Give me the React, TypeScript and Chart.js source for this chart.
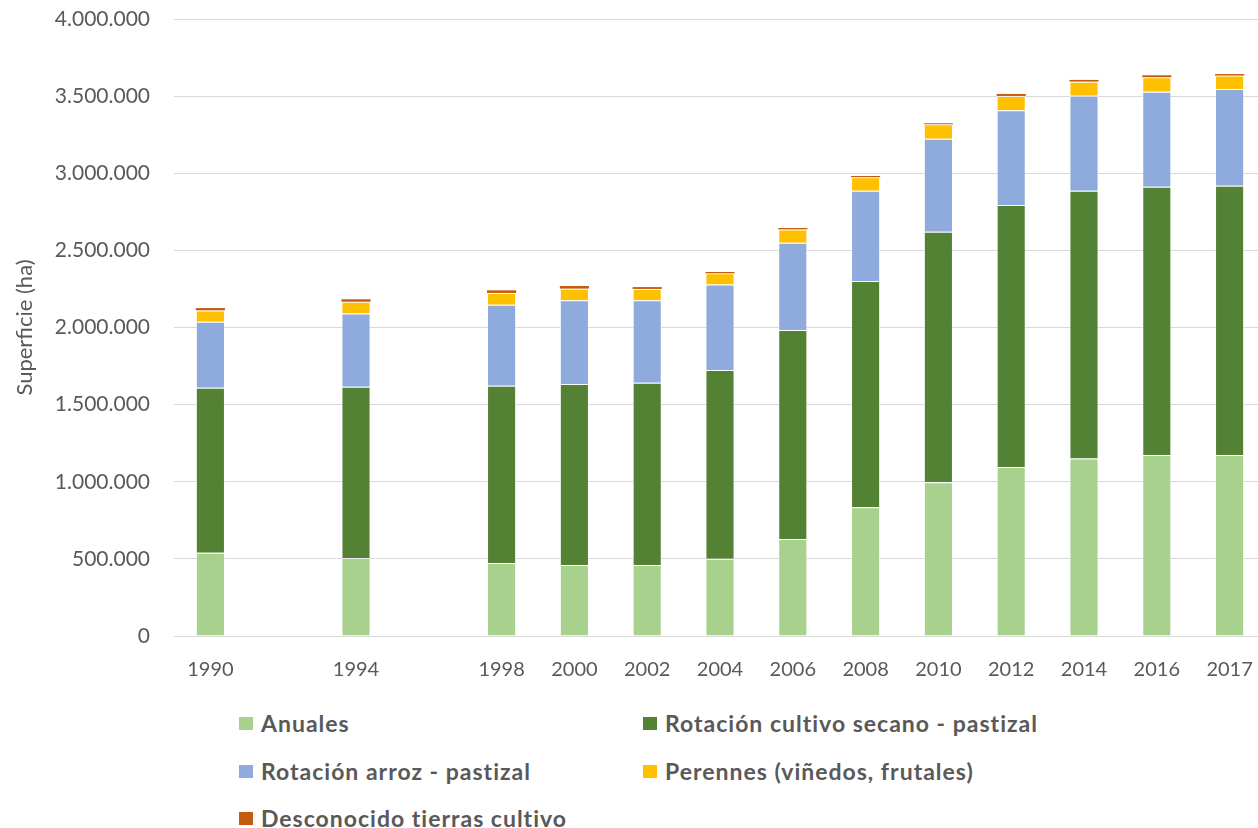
import React, { useEffect, useRef } from "react";
import { Chart, registerables } from "chart.js";

Chart.register(...registerables);

const years = ["1990", "", "1994", "", "1998", "2000", "2002", "2004", "2006", "2008", "2010", "2012", "2014", "2016", "2017"];

const anuales = [540000, null, 506000, null, 473000, 460000, 460000, 501000, 629000, 834000, 996000, 1096000, 1150000, 1173000, 1173000];
const secano = [1070000, null, 1110000, null, 1150000, 1174000, 1182000, 1223000, 1355000, 1467000, 1625000, 1698000, 1737000, 1740000, 1746000];
const arroz = [428000, null, 474000, null, 525000, 542000, 534000, 554000, 566000, 586000, 603000, 614000, 616000, 616000, 627000];
const perennes = [73000, null, 77000, null, 76000, 76000, 74000, 73000, 86000, 87000, 93000, 93000, 91000, 93000, 87000];
const desconocido = [15000, null, 16000, null, 17000, 17000, 12000, 9000, 9000, 8000, 7000, 13000, 11000, 13000, 10000];

const seriesNames = [
  "Anuales",
  "Rotación cultivo secano - pastizal",
  "Rotación arroz - pastizal",
  "Perennes (viñedos, frutales)",
  "Desconocido tierras cultivo",
];
const seriesColors = ["#A9D18E", "#548235", "#8FAADC", "#FFC000", "#C55A11"];
const seriesValues = [anuales, secano, arroz, perennes, desconocido];

const yTitle = "Superficie (ha)";
const yMax = 4000000;
const yStep = 500000;

const TEXT = "#595959";
const FONT = "Lato, 'Open Sans', sans-serif";

function fmt(v: number): string {
  return String(Math.round(v)).replace(/\B(?=(\d{3})+(?!\d))/g, ".");
}

// legend layout (grid of 2 columns)
const legendCols = [239, 643];
const legendRows = [723, 771, 818];

export default function App() {
  const ref = useRef<HTMLCanvasElement | null>(null);

  useEffect(() => {
    if (!ref.current) return;
    const chart = new Chart(ref.current, {
      type: "bar",
      data: {
        labels: years,
        datasets: seriesValues.map((vals, i) => ({
          label: seriesNames[i],
          data: vals,
          backgroundColor: seriesColors[i],
          borderColor: "rgba(255,255,255,0.5)",
          borderWidth: i === 4 ? 0 : 1,
          categoryPercentage: 0.8,
          barPercentage: 0.5,
        })),
      },
      options: {
        responsive: false,
        animation: false,
        maintainAspectRatio: false,
        layout: { padding: { top: 19, left: 0, right: 0, bottom: 0 } },
        plugins: {
          legend: { display: false },
          tooltip: { enabled: false },
        },
        scales: {
          x: {
            stacked: true,
            offset: true,
            grid: { display: false },
            border: { display: false },
            ticks: {
              color: TEXT,
              font: { family: FONT, size: 20 },
              padding: 14,
              maxRotation: 0,
              autoSkip: false,
            },
            afterFit: (scale: any) => {
              scale.height = 54;
              scale.paddingLeft = 0;
              scale.paddingRight = 0;
            },
          },
          y: {
            stacked: true,
            min: 0,
            max: yMax,
            border: { display: false },
            grid: { color: "#D9D9D9", lineWidth: 1, drawTicks: false },
            ticks: {
              stepSize: yStep,
              color: TEXT,
              font: { family: FONT, size: 21 },
              padding: 24,
              callback: (v: any) => fmt(Number(v)),
            },
            title: {
              display: true,
              text: yTitle,
              color: TEXT,
              font: { family: FONT, size: 22 },
              padding: { top: 12, bottom: 0 },
            },
            afterFit: (scale: any) => {
              scale.width = 174;
              scale.paddingTop = 0;
              scale.paddingBottom = 0;
            },
          },
        },
      },
    });
    return () => chart.destroy();
  }, []);

  return (
    <div
      style={{
        position: "absolute",
        left: 0,
        top: 0,
        width: 1258,
        height: 828,
        overflow: "hidden",
        background: "#fff",
      }}
    >
      <canvas ref={ref} width={1266} height={690} style={{ display: "block", width: 1266, height: 690 }} />
      {seriesNames.map((name, i) => {
        const col = i % 2;
        const row = Math.floor(i / 2);
        const x = legendCols[col];
        const cy = legendRows[row];
        return (
          <div
            key={name}
            style={{
              position: "absolute",
              left: x,
              top: cy - 15,
              height: 30,
              display: "flex",
              alignItems: "center",
              whiteSpace: "nowrap",
              fontFamily: FONT,
              fontWeight: 700,
              fontSize: 23,
              letterSpacing: 1,
              color: TEXT,
            }}
          >
            <span
              style={{
                display: "inline-block",
                width: 14,
                height: 13,
                background: seriesColors[i],
                marginRight: 8,
              }}
            />
            <span>{name}</span>
          </div>
        );
      })}
    </div>
  );
}
